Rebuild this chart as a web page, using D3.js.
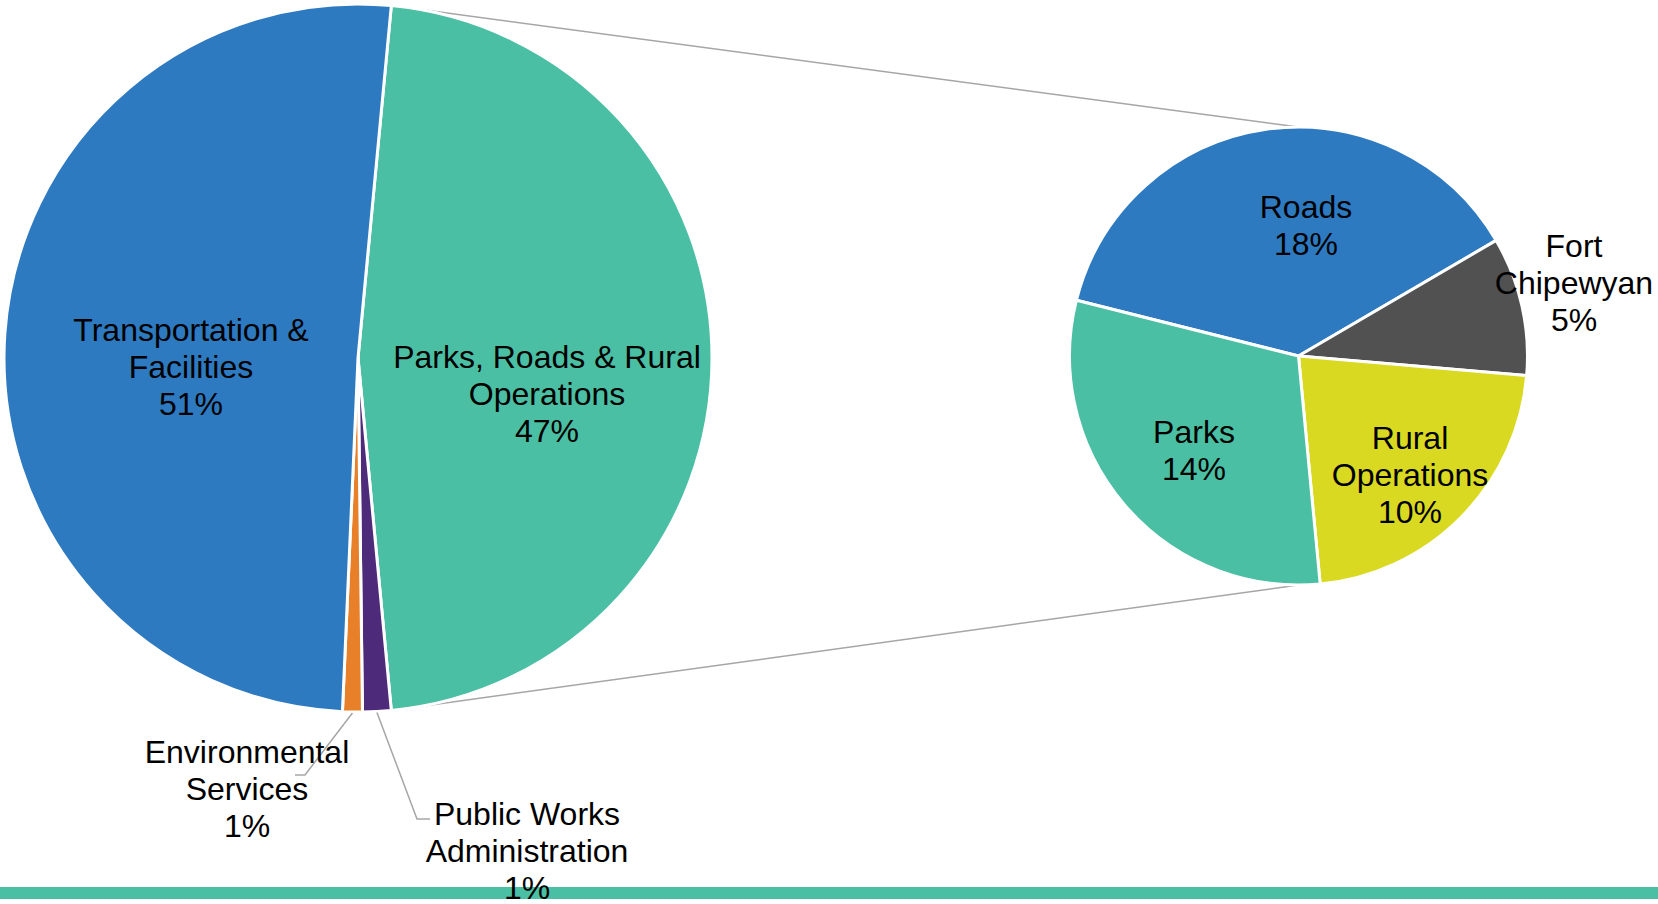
<!DOCTYPE html>
<html>
<head>
<meta charset="utf-8">
<script src="https://cdn.jsdelivr.net/npm/d3@7"></script>
<style>
  body { margin: 0; background: #fff; }
  text { font-family: "Liberation Sans", Arial, sans-serif; font-size: 32px; fill: #000; }
</style>
</head>
<body>
<svg id="chart" width="1658" height="904"></svg>
<script>
// main pie: share of total budget (%)
const mainNames = [["Parks, Roads & Rural", "Operations"], ["Public Works", "Administration"], ["Environmental", "Services"], ["Transportation &", "Facilities"]];
const mainValues = [47.0, 1.3, 0.9, 50.8];
const mainColors = ["#4abfa3", "#4e2b7a", "#e8802a", "#2e7ac0"];

// second pie: breakdown of "Parks, Roads & Rural Operations" (% of total)
const subNames = [["Roads"], ["Fort", "Chipewyan"], ["Rural", "Operations"], ["Parks"]];
const subValues = [17.7, 4.6, 10.4, 14.3];
const subColors = ["#2e7ac0", "#505150", "#d9d921", "#4abfa3"];

const W = 1658, H = 904;
const lineH = 37;
const rad = deg => deg * Math.PI / 180;

// geometry
const main = {cx: 358, cy: 358, r: 354};
const sub = {cx: 1298.5, cy: 356, r: 229};

// label anchors (centre x, first baseline)
const mainLabelPos = [[547, 368], [527, 825], [247, 763], [191, 341]];
const subLabelPos = [[1306, 218], [1574, 257], [1410, 449], [1194, 443]];

const svg = d3.select("#chart");

const total = d3.sum(mainValues);
const otherSpan = mainValues[0] / total * 2 * Math.PI;
const mainStart = Math.PI / 2 - otherSpan / 2;

const mainArcs = d3.pie().sort(null).value(d => d)
    .startAngle(mainStart).endAngle(mainStart + 2 * Math.PI)(mainValues);

const subStart = rad(-75.9);
const subArcs = d3.pie().sort(null).value(d => d)
    .startAngle(subStart).endAngle(subStart + 2 * Math.PI)(subValues);

const pt = (c, a, r) => [c.cx + r * Math.sin(a), c.cy - r * Math.cos(a)];

// series lines, behind the pies
const a0 = mainArcs[0].startAngle, a1 = mainArcs[0].endAngle;
svg.append("g")
    .selectAll("line")
    .data([[pt(main, a0, main.r), [sub.cx, sub.cy - sub.r]], [pt(main, a1, main.r), [sub.cx, sub.cy + sub.r]]])
    .join("line")
    .attr("x1", d => d[0][0]).attr("y1", d => d[0][1])
    .attr("x2", d => d[1][0]).attr("y2", d => d[1][1])
    .attr("stroke", "#a6a6a6")
    .attr("stroke-width", 1.5);

// main pie
const mainArc = d3.arc().innerRadius(0).outerRadius(main.r);
svg.append("g")
    .attr("transform", `translate(${main.cx},${main.cy})`)
    .selectAll("path")
    .data(mainArcs)
    .join("path")
    .attr("d", mainArc)
    .attr("fill", (d, i) => mainColors[i])
    .attr("stroke", "#fff")
    .attr("stroke-width", 3)
    .attr("stroke-linejoin", "round");

// second pie
const subArc = d3.arc().innerRadius(0).outerRadius(sub.r);
svg.append("g")
    .attr("transform", `translate(${sub.cx},${sub.cy})`)
    .selectAll("path")
    .data(subArcs)
    .join("path")
    .attr("d", subArc)
    .attr("fill", (d, i) => subColors[i])
    .attr("stroke", "#fff")
    .attr("stroke-width", 3)
    .attr("stroke-linejoin", "round");

// leader lines for the two thin slices
const elbows = {1: [[417, 819], [430, 819]], 2: [[305, 775], [295, 775]]};
[1, 2].forEach(i => {
    const mid = (mainArcs[i].startAngle + mainArcs[i].endAngle) / 2;
    const p = pt(main, mid, main.r + 1);
    svg.append("polyline")
        .attr("points", [p, ...elbows[i]].map(q => q.join(",")).join(" "))
        .attr("fill", "none")
        .attr("stroke", "#a6a6a6")
        .attr("stroke-width", 1.5);
});

// bottom band
svg.append("rect")
    .attr("x", 0).attr("y", 887)
    .attr("width", W).attr("height", 12)
    .attr("fill", "#4abfa3");

// labels
function addLabel(lines, pos) {
    const t = svg.append("text")
        .attr("text-anchor", "middle")
        .attr("x", pos[0]).attr("y", pos[1]);
    lines.forEach((s, k) => {
        t.append("tspan").attr("x", pos[0]).attr("y", pos[1] + k * lineH).text(s);
    });
}
mainArcs.forEach((d, i) => addLabel([...mainNames[i], Math.round(d.data) + "%"], mainLabelPos[i]));
subArcs.forEach((d, i) => addLabel([...subNames[i], Math.round(d.data) + "%"], subLabelPos[i]));
</script>
</body>
</html>
